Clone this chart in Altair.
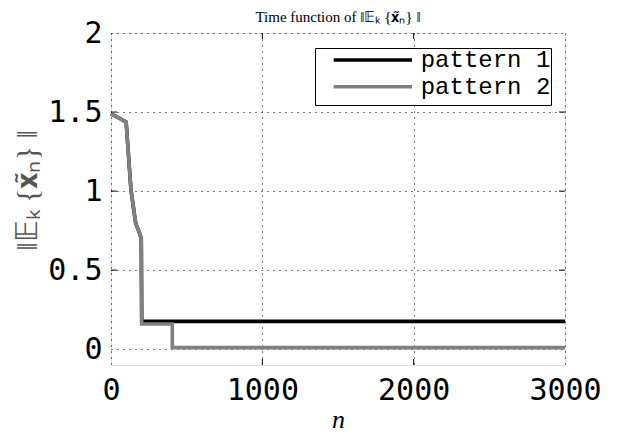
import altair as alt
import pandas as pd

# ---- data ----
series_names = ["pattern 1", "pattern 2"]
n_p1 = [0, 100, 132, 163, 185, 200, 203, 3000]
v_p1 = [1.49, 1.437, 1.008, 0.796, 0.743, 0.70, 0.176, 0.176]
n_p2 = [0, 100, 132, 163, 185, 200, 203, 405, 405, 3000]
v_p2 = [1.49, 1.437, 1.008, 0.796, 0.743, 0.70, 0.159, 0.159, 0.010, 0.010]
x_ticks = [0, 1000, 2000, 3000]
y_ticks = [0, 0.5, 1, 1.5, 2]
colors = ["#000000", "#808080"]

rows = []
for i, (n, v) in enumerate(zip(n_p1, v_p1)):
    rows.append({"n": n, "v": v, "series": series_names[0], "idx": i})
for i, (n, v) in enumerate(zip(n_p2, v_p2)):
    rows.append({"n": n, "v": v, "series": series_names[1], "idx": i})
df = pd.DataFrame(rows)

W, H = 454, 332
xscale = alt.Scale(domain=[0, 3000], nice=False, zero=False)
yscale = alt.Scale(domain=[-0.1, 2], nice=False, zero=False)

tick_font = "DejaVu Sans Mono"
serif = "Liberation Serif"
math_label = "‖𝔼ₖ {𝐱̃ₙ} ‖"

lines = alt.Chart(df).mark_line(strokeWidth=3.6, strokeCap="butt", strokeJoin="miter").encode(
    x=alt.X("n:Q", scale=xscale,
            axis=alt.Axis(values=x_ticks, format="d", title="n", titleFont=serif,
                          titleFontStyle="italic", titleFontWeight="normal", titleFontSize=26,
                          titleColor="#000", titleX=W / 2, titleY=67,
                          titleBaseline="bottom",
                          labelFont=tick_font, labelFontSize=30, labelColor="#000",
                          labelPadding=10, ticks=False, domain=False,
                          grid=True, gridDash=[1, 5], gridColor="#000", gridWidth=1,
                          labelFlush=False, labelOverlap=False)),
    y=alt.Y("v:Q", scale=yscale,
            axis=alt.Axis(values=y_ticks, format="~g", title=math_label, titleFont=serif,
                          titleFontWeight="normal", titleFontSize=30, titleColor="#555",
                          titleX=-84, titleY=157, titleAngle=-90, titleAlign="center",
                          titleBaseline="middle",
                          labelFont=tick_font, labelFontSize=30, labelColor="#000",
                          labelPadding=9, ticks=False, domain=False,
                          grid=True, gridDash=[1, 5], gridColor="#000", gridWidth=1,
                          labelFlush=False, labelOverlap=False)),
    color=alt.Color("series:N", scale=alt.Scale(domain=series_names, range=colors),
                    legend=alt.Legend(title=" ", titleOrient="bottom", titleFontSize=2,
                                      titlePadding=4,
                                      orient="none", legendX=204, legendY=15,
                                      symbolType="M0.67,0H8.5", symbolSize=400,
                                      symbolStrokeWidth=3.6, symbolOffset=0,
                                      symbolFillColor="transparent",
                                      labelFont="Liberation Mono", labelFontSize=24,
                                      labelColor="#000", labelOffset=81.7,
                                      padding=0, rowPadding=2.7,
                                      strokeColor="#000", fillColor="#ffffff")),
    order=alt.Order("idx:Q"),
)

xt = pd.DataFrame({"n": x_ticks[1:-1]})
yt = pd.DataFrame({"v": y_ticks[1:-1]})
xb = alt.Chart(xt).mark_rule(color="#000", strokeWidth=1).encode(
    x=alt.X("n:Q", scale=xscale), y=alt.value(H), y2=alt.value(H - 6))
xtop = alt.Chart(xt).mark_rule(color="#000", strokeWidth=1).encode(
    x=alt.X("n:Q", scale=xscale), y=alt.value(0), y2=alt.value(6))
yl = alt.Chart(yt).mark_rule(color="#000", strokeWidth=1).encode(
    y=alt.Y("v:Q", scale=yscale), x=alt.value(0), x2=alt.value(6))
yr = alt.Chart(yt).mark_rule(color="#000", strokeWidth=1).encode(
    y=alt.Y("v:Q", scale=yscale), x=alt.value(W), x2=alt.value(W - 6))

chart = alt.layer(xb, xtop, yl, yr, lines).properties(
    width=W, height=H,
    autosize=alt.AutoSizeParams(type="none"),
    padding={"left": 103, "top": 25, "right": 58, "bottom": 68},
    title=alt.TitleParams("Time function of " + math_label, font=serif, fontSize=15,
                          fontWeight="normal", color="#000", offset=-7),
).configure_view(stroke="#000", strokeWidth=1.2).configure(background="#ffffff")

chart.save("out.html", embed_options={"renderer": "svg", "actions": False})
